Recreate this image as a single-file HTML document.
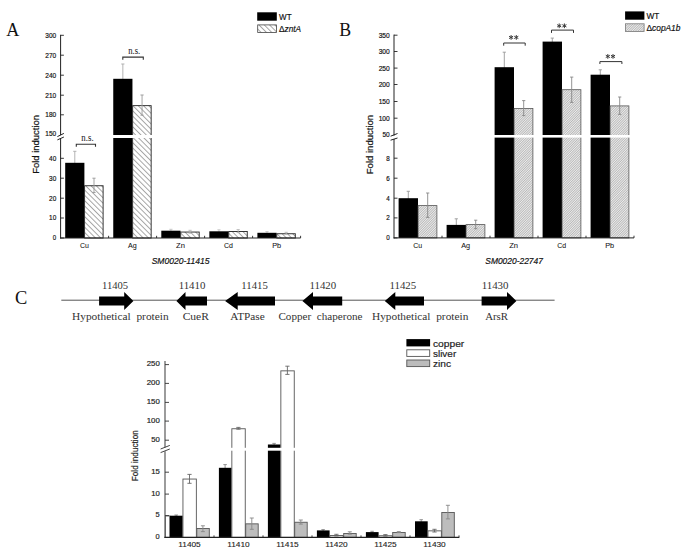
<!DOCTYPE html>
<html><head><meta charset="utf-8"><style>
html,body{margin:0;padding:0;background:#fff;width:685px;height:553px;overflow:hidden}
svg{display:block}
</style></head><body>
<svg width="685" height="553" viewBox="0 0 685 553">
<defs>
<pattern id="hA" patternUnits="userSpaceOnUse" width="3.75" height="10" patternTransform="rotate(-45)">
<rect width="3.75" height="10" fill="#fff"/><line x1="0.5" y1="0" x2="0.5" y2="10" stroke="#666" stroke-width="0.6"/></pattern>
<pattern id="hB" patternUnits="userSpaceOnUse" width="1.7" height="10" patternTransform="rotate(45)">
<rect width="1.7" height="10" fill="#ececec"/><line x1="0.4" y1="0" x2="0.4" y2="10" stroke="#9a9a9a" stroke-width="0.6"/></pattern>
</defs>
<rect width="685" height="553" fill="#fff"/>
<text x="6.35" y="35.85" font-size="19.18" textLength="13.10" lengthAdjust="spacingAndGlyphs" style="font-family:'Liberation Serif', serif;font-weight:normal" fill="#111" >A</text>
<line x1="74.80" y1="151.30" x2="74.80" y2="164.80" stroke="#aaa" stroke-width="0.9"/>
<line x1="73.20" y1="151.30" x2="76.40" y2="151.30" stroke="#aaa" stroke-width="0.9"/>
<line x1="73.20" y1="164.80" x2="76.40" y2="164.80" stroke="#aaa" stroke-width="0.9"/>
<rect x="65.20" y="162.80" width="19.20" height="75.20" fill="#000" stroke="none" stroke-width="1"/>
<rect x="84.60" y="185.75" width="18.50" height="52.25" fill="url(#hA)" stroke="#222" stroke-width="0.9"/>
<line x1="94.00" y1="178.20" x2="94.00" y2="192.50" stroke="#999" stroke-width="0.9"/>
<line x1="92.40" y1="178.20" x2="95.60" y2="178.20" stroke="#999" stroke-width="0.9"/>
<line x1="92.40" y1="192.50" x2="95.60" y2="192.50" stroke="#999" stroke-width="0.9"/>
<line x1="122.85" y1="64.00" x2="122.85" y2="80.80" stroke="#aaa" stroke-width="0.9"/>
<line x1="121.25" y1="64.00" x2="124.45" y2="64.00" stroke="#aaa" stroke-width="0.9"/>
<line x1="121.25" y1="80.80" x2="124.45" y2="80.80" stroke="#aaa" stroke-width="0.9"/>
<rect x="113.25" y="78.80" width="19.20" height="159.20" fill="#000" stroke="none" stroke-width="1"/>
<rect x="132.65" y="105.65" width="18.50" height="132.35" fill="url(#hA)" stroke="#222" stroke-width="0.9"/>
<line x1="142.05" y1="95.00" x2="142.05" y2="115.20" stroke="#999" stroke-width="0.9"/>
<line x1="140.45" y1="95.00" x2="143.65" y2="95.00" stroke="#999" stroke-width="0.9"/>
<line x1="140.45" y1="115.20" x2="143.65" y2="115.20" stroke="#999" stroke-width="0.9"/>
<line x1="170.90" y1="229.30" x2="170.90" y2="232.70" stroke="#c4c4c4" stroke-width="0.9"/>
<line x1="169.30" y1="229.30" x2="172.50" y2="229.30" stroke="#c4c4c4" stroke-width="0.9"/>
<line x1="169.30" y1="232.70" x2="172.50" y2="232.70" stroke="#c4c4c4" stroke-width="0.9"/>
<rect x="161.30" y="230.70" width="19.20" height="7.30" fill="#000" stroke="none" stroke-width="1"/>
<rect x="180.70" y="232.05" width="18.50" height="5.95" fill="url(#hA)" stroke="#222" stroke-width="0.9"/>
<line x1="190.10" y1="230.30" x2="190.10" y2="233.30" stroke="#b8b8b8" stroke-width="0.9"/>
<line x1="188.50" y1="230.30" x2="191.70" y2="230.30" stroke="#b8b8b8" stroke-width="0.9"/>
<line x1="188.50" y1="233.30" x2="191.70" y2="233.30" stroke="#b8b8b8" stroke-width="0.9"/>
<line x1="218.95" y1="229.80" x2="218.95" y2="233.30" stroke="#c4c4c4" stroke-width="0.9"/>
<line x1="217.35" y1="229.80" x2="220.55" y2="229.80" stroke="#c4c4c4" stroke-width="0.9"/>
<line x1="217.35" y1="233.30" x2="220.55" y2="233.30" stroke="#c4c4c4" stroke-width="0.9"/>
<rect x="209.35" y="231.30" width="19.20" height="6.70" fill="#000" stroke="none" stroke-width="1"/>
<rect x="228.75" y="231.45" width="18.50" height="6.55" fill="url(#hA)" stroke="#222" stroke-width="0.9"/>
<line x1="238.15" y1="229.60" x2="238.15" y2="232.60" stroke="#b8b8b8" stroke-width="0.9"/>
<line x1="236.55" y1="229.60" x2="239.75" y2="229.60" stroke="#b8b8b8" stroke-width="0.9"/>
<line x1="236.55" y1="232.60" x2="239.75" y2="232.60" stroke="#b8b8b8" stroke-width="0.9"/>
<line x1="267.00" y1="231.60" x2="267.00" y2="234.80" stroke="#c4c4c4" stroke-width="0.9"/>
<line x1="265.40" y1="231.60" x2="268.60" y2="231.60" stroke="#c4c4c4" stroke-width="0.9"/>
<line x1="265.40" y1="234.80" x2="268.60" y2="234.80" stroke="#c4c4c4" stroke-width="0.9"/>
<rect x="257.40" y="232.80" width="19.20" height="5.20" fill="#000" stroke="none" stroke-width="1"/>
<rect x="276.80" y="233.75" width="18.50" height="4.25" fill="url(#hA)" stroke="#222" stroke-width="0.9"/>
<line x1="286.20" y1="232.30" x2="286.20" y2="234.30" stroke="#b8b8b8" stroke-width="0.9"/>
<line x1="284.60" y1="232.30" x2="287.80" y2="232.30" stroke="#b8b8b8" stroke-width="0.9"/>
<line x1="284.60" y1="234.30" x2="287.80" y2="234.30" stroke="#b8b8b8" stroke-width="0.9"/>
<rect x="62.00" y="135.00" width="240.00" height="3.00" fill="#fff" stroke="none" stroke-width="1"/>
<line x1="60.60" y1="34.80" x2="60.60" y2="135.20" stroke="#222" stroke-width="1"/>
<line x1="60.60" y1="138.60" x2="60.60" y2="238.50" stroke="#222" stroke-width="1"/>
<line x1="60.10" y1="238.00" x2="300.60" y2="238.00" stroke="#222" stroke-width="1"/>
<line x1="108.60" y1="238.00" x2="108.60" y2="235.80" stroke="#222" stroke-width="0.9"/>
<line x1="156.60" y1="238.00" x2="156.60" y2="235.80" stroke="#222" stroke-width="0.9"/>
<line x1="204.60" y1="238.00" x2="204.60" y2="235.80" stroke="#222" stroke-width="0.9"/>
<line x1="252.60" y1="238.00" x2="252.60" y2="235.80" stroke="#222" stroke-width="0.9"/>
<line x1="300.60" y1="238.00" x2="300.60" y2="235.80" stroke="#222" stroke-width="0.9"/>
<line x1="60.60" y1="35.30" x2="63.90" y2="35.30" stroke="#222" stroke-width="0.9"/>
<text x="45.36" y="37.75" font-size="7.96" textLength="10.89" lengthAdjust="spacingAndGlyphs" style="font-family:'Liberation Sans', sans-serif;font-weight:normal" fill="#111" stroke="#111" stroke-width="0.2" >300</text>
<line x1="60.60" y1="55.20" x2="63.90" y2="55.20" stroke="#222" stroke-width="0.9"/>
<text x="45.36" y="57.65" font-size="7.96" textLength="10.89" lengthAdjust="spacingAndGlyphs" style="font-family:'Liberation Sans', sans-serif;font-weight:normal" fill="#111" stroke="#111" stroke-width="0.2" >270</text>
<line x1="60.60" y1="75.20" x2="63.90" y2="75.20" stroke="#222" stroke-width="0.9"/>
<text x="45.36" y="77.65" font-size="7.96" textLength="10.89" lengthAdjust="spacingAndGlyphs" style="font-family:'Liberation Sans', sans-serif;font-weight:normal" fill="#111" stroke="#111" stroke-width="0.2" >240</text>
<line x1="60.60" y1="95.20" x2="63.90" y2="95.20" stroke="#222" stroke-width="0.9"/>
<text x="45.36" y="97.65" font-size="7.96" textLength="10.89" lengthAdjust="spacingAndGlyphs" style="font-family:'Liberation Sans', sans-serif;font-weight:normal" fill="#111" stroke="#111" stroke-width="0.2" >210</text>
<line x1="60.60" y1="114.80" x2="63.90" y2="114.80" stroke="#222" stroke-width="0.9"/>
<text x="45.36" y="117.25" font-size="7.96" textLength="10.89" lengthAdjust="spacingAndGlyphs" style="font-family:'Liberation Sans', sans-serif;font-weight:normal" fill="#111" stroke="#111" stroke-width="0.2" >180</text>
<text x="45.36" y="136.25" font-size="7.96" textLength="10.89" lengthAdjust="spacingAndGlyphs" style="font-family:'Liberation Sans', sans-serif;font-weight:normal" fill="#111" stroke="#111" stroke-width="0.2" >150</text>
<line x1="60.60" y1="158.30" x2="63.90" y2="158.30" stroke="#222" stroke-width="0.9"/>
<text x="49.09" y="160.75" font-size="7.96" textLength="7.16" lengthAdjust="spacingAndGlyphs" style="font-family:'Liberation Sans', sans-serif;font-weight:normal" fill="#111" stroke="#111" stroke-width="0.2" >40</text>
<line x1="60.60" y1="178.20" x2="63.90" y2="178.20" stroke="#222" stroke-width="0.9"/>
<text x="49.09" y="180.65" font-size="7.96" textLength="7.16" lengthAdjust="spacingAndGlyphs" style="font-family:'Liberation Sans', sans-serif;font-weight:normal" fill="#111" stroke="#111" stroke-width="0.2" >30</text>
<line x1="60.60" y1="198.20" x2="63.90" y2="198.20" stroke="#222" stroke-width="0.9"/>
<text x="49.09" y="200.65" font-size="7.96" textLength="7.16" lengthAdjust="spacingAndGlyphs" style="font-family:'Liberation Sans', sans-serif;font-weight:normal" fill="#111" stroke="#111" stroke-width="0.2" >20</text>
<line x1="60.60" y1="218.00" x2="63.90" y2="218.00" stroke="#222" stroke-width="0.9"/>
<text x="49.09" y="220.45" font-size="7.96" textLength="7.16" lengthAdjust="spacingAndGlyphs" style="font-family:'Liberation Sans', sans-serif;font-weight:normal" fill="#111" stroke="#111" stroke-width="0.2" >10</text>
<line x1="60.60" y1="238.00" x2="63.90" y2="238.00" stroke="#222" stroke-width="0.9"/>
<text x="52.82" y="240.45" font-size="7.96" textLength="3.43" lengthAdjust="spacingAndGlyphs" style="font-family:'Liberation Sans', sans-serif;font-weight:normal" fill="#111" stroke="#111" stroke-width="0.2" >0</text>
<line x1="57.40" y1="136.60" x2="63.90" y2="133.40" stroke="#222" stroke-width="1.0"/>
<line x1="57.40" y1="139.90" x2="63.90" y2="137.00" stroke="#222" stroke-width="1.0"/>
<text transform="translate(39.25,173.85) rotate(-90)" x="0" y="0" font-size="8.64" textLength="58.90" lengthAdjust="spacingAndGlyphs" style="font-family:'Liberation Sans', sans-serif" fill="#111" stroke="#111" stroke-width="0.2">Fold induction</text>
<polyline points="76.30,146.70 76.30,144.30 95.50,144.30 95.50,146.70" fill="none" stroke="#333" stroke-width="1.1"/>
<text x="81.35" y="140.65" font-size="10.43" textLength="12.30" lengthAdjust="spacingAndGlyphs" style="font-family:'Liberation Serif', serif;font-weight:normal" fill="#111" >n.s.</text>
<polyline points="122.80,59.70 122.80,57.10 143.30,57.10 143.30,59.70" fill="none" stroke="#333" stroke-width="1.1"/>
<text x="128.15" y="53.75" font-size="10.43" textLength="12.10" lengthAdjust="spacingAndGlyphs" style="font-family:'Liberation Serif', serif;font-weight:normal" fill="#111" >n.s.</text>
<text x="79.95" y="248.35" font-size="6.72" textLength="8.90" lengthAdjust="spacingAndGlyphs" style="font-family:'Liberation Sans', sans-serif;font-weight:normal" fill="#111" stroke="#111" stroke-width="0.05" >Cu</text>
<text x="128.10" y="248.35" font-size="6.72" textLength="8.70" lengthAdjust="spacingAndGlyphs" style="font-family:'Liberation Sans', sans-serif;font-weight:normal" fill="#111" stroke="#111" stroke-width="0.05" >Ag</text>
<text x="176.05" y="248.35" font-size="6.72" textLength="8.90" lengthAdjust="spacingAndGlyphs" style="font-family:'Liberation Sans', sans-serif;font-weight:normal" fill="#111" stroke="#111" stroke-width="0.05" >Zn</text>
<text x="224.10" y="248.35" font-size="6.72" textLength="8.90" lengthAdjust="spacingAndGlyphs" style="font-family:'Liberation Sans', sans-serif;font-weight:normal" fill="#111" stroke="#111" stroke-width="0.05" >Cd</text>
<text x="272.15" y="248.35" font-size="6.72" textLength="8.90" lengthAdjust="spacingAndGlyphs" style="font-family:'Liberation Sans', sans-serif;font-weight:normal" fill="#111" stroke="#111" stroke-width="0.05" >Pb</text>
<text x="151.65" y="263.75" font-size="8.50" textLength="57.80" lengthAdjust="spacingAndGlyphs" style="font-family:'Liberation Sans', sans-serif;font-style:italic;font-weight:normal" fill="#111" stroke="#111" stroke-width="0.18" >SM0020-11415</text>
<rect x="257.20" y="12.30" width="19.60" height="8.40" fill="#000" stroke="none" stroke-width="1"/>
<rect x="257.70" y="24.90" width="18.80" height="7.60" fill="url(#hA)" stroke="#444" stroke-width="0.8"/>
<text x="279.05" y="19.95" font-size="9.19" textLength="12.50" lengthAdjust="spacingAndGlyphs" style="font-family:'Liberation Sans', sans-serif;font-weight:normal" fill="#111" stroke="#111" stroke-width="0.18" >WT</text>
<text x="279.05" y="32.25" font-size="9.19" textLength="22.10" lengthAdjust="spacingAndGlyphs" style="font-family:'Liberation Sans', sans-serif;font-weight:normal" fill="#111" stroke="#111" stroke-width="0.18" >&#916;<tspan style="font-style:italic">zntA</tspan></text>
<text x="339.15" y="35.75" font-size="18.28" textLength="11.90" lengthAdjust="spacingAndGlyphs" style="font-family:'Liberation Serif', serif;font-weight:normal" fill="#111" >B</text>
<line x1="408.30" y1="191.30" x2="408.30" y2="200.20" stroke="#999" stroke-width="0.9"/>
<line x1="406.70" y1="191.30" x2="409.90" y2="191.30" stroke="#999" stroke-width="0.9"/>
<line x1="406.70" y1="200.20" x2="409.90" y2="200.20" stroke="#999" stroke-width="0.9"/>
<rect x="398.60" y="198.20" width="19.40" height="39.70" fill="#000" stroke="none" stroke-width="1"/>
<rect x="418.10" y="205.60" width="18.80" height="32.30" fill="url(#hB)" stroke="#555" stroke-width="0.8"/>
<line x1="427.70" y1="193.00" x2="427.70" y2="217.40" stroke="#888" stroke-width="0.9"/>
<line x1="426.10" y1="193.00" x2="429.30" y2="193.00" stroke="#888" stroke-width="0.9"/>
<line x1="426.10" y1="217.40" x2="429.30" y2="217.40" stroke="#888" stroke-width="0.9"/>
<line x1="456.30" y1="218.80" x2="456.30" y2="226.90" stroke="#999" stroke-width="0.9"/>
<line x1="454.70" y1="218.80" x2="457.90" y2="218.80" stroke="#999" stroke-width="0.9"/>
<line x1="454.70" y1="226.90" x2="457.90" y2="226.90" stroke="#999" stroke-width="0.9"/>
<rect x="446.60" y="224.90" width="19.40" height="13.00" fill="#000" stroke="none" stroke-width="1"/>
<rect x="466.10" y="224.60" width="18.80" height="13.30" fill="url(#hB)" stroke="#555" stroke-width="0.8"/>
<line x1="475.70" y1="220.20" x2="475.70" y2="228.70" stroke="#888" stroke-width="0.9"/>
<line x1="474.10" y1="220.20" x2="477.30" y2="220.20" stroke="#888" stroke-width="0.9"/>
<line x1="474.10" y1="228.70" x2="477.30" y2="228.70" stroke="#888" stroke-width="0.9"/>
<line x1="504.30" y1="52.20" x2="504.30" y2="69.20" stroke="#999" stroke-width="0.9"/>
<line x1="502.70" y1="52.20" x2="505.90" y2="52.20" stroke="#999" stroke-width="0.9"/>
<line x1="502.70" y1="69.20" x2="505.90" y2="69.20" stroke="#999" stroke-width="0.9"/>
<rect x="494.60" y="67.20" width="19.40" height="170.70" fill="#000" stroke="none" stroke-width="1"/>
<rect x="514.10" y="108.50" width="18.80" height="129.40" fill="url(#hB)" stroke="#555" stroke-width="0.8"/>
<line x1="523.70" y1="100.60" x2="523.70" y2="115.60" stroke="#888" stroke-width="0.9"/>
<line x1="522.10" y1="100.60" x2="525.30" y2="100.60" stroke="#888" stroke-width="0.9"/>
<line x1="522.10" y1="115.60" x2="525.30" y2="115.60" stroke="#888" stroke-width="0.9"/>
<line x1="552.30" y1="38.10" x2="552.30" y2="43.60" stroke="#999" stroke-width="0.9"/>
<line x1="550.70" y1="38.10" x2="553.90" y2="38.10" stroke="#999" stroke-width="0.9"/>
<line x1="550.70" y1="43.60" x2="553.90" y2="43.60" stroke="#999" stroke-width="0.9"/>
<rect x="542.60" y="41.60" width="19.40" height="196.30" fill="#000" stroke="none" stroke-width="1"/>
<rect x="562.10" y="89.70" width="18.80" height="148.20" fill="url(#hB)" stroke="#555" stroke-width="0.8"/>
<line x1="571.70" y1="77.10" x2="571.70" y2="102.40" stroke="#888" stroke-width="0.9"/>
<line x1="570.10" y1="77.10" x2="573.30" y2="77.10" stroke="#888" stroke-width="0.9"/>
<line x1="570.10" y1="102.40" x2="573.30" y2="102.40" stroke="#888" stroke-width="0.9"/>
<line x1="600.30" y1="69.80" x2="600.30" y2="76.70" stroke="#999" stroke-width="0.9"/>
<line x1="598.70" y1="69.80" x2="601.90" y2="69.80" stroke="#999" stroke-width="0.9"/>
<line x1="598.70" y1="76.70" x2="601.90" y2="76.70" stroke="#999" stroke-width="0.9"/>
<rect x="590.60" y="74.70" width="19.40" height="163.20" fill="#000" stroke="none" stroke-width="1"/>
<rect x="610.10" y="105.90" width="18.80" height="132.00" fill="url(#hB)" stroke="#555" stroke-width="0.8"/>
<line x1="619.70" y1="97.00" x2="619.70" y2="114.40" stroke="#888" stroke-width="0.9"/>
<line x1="618.10" y1="97.00" x2="621.30" y2="97.00" stroke="#888" stroke-width="0.9"/>
<line x1="618.10" y1="114.40" x2="621.30" y2="114.40" stroke="#888" stroke-width="0.9"/>
<rect x="396.00" y="135.00" width="240.00" height="2.60" fill="#fff" stroke="none" stroke-width="1"/>
<line x1="394.00" y1="34.60" x2="394.00" y2="135.60" stroke="#222" stroke-width="1"/>
<line x1="394.00" y1="139.00" x2="394.00" y2="238.40" stroke="#222" stroke-width="1"/>
<line x1="393.50" y1="237.90" x2="634.00" y2="237.90" stroke="#222" stroke-width="1"/>
<line x1="442.00" y1="237.90" x2="442.00" y2="235.70" stroke="#222" stroke-width="0.9"/>
<line x1="490.00" y1="237.90" x2="490.00" y2="235.70" stroke="#222" stroke-width="0.9"/>
<line x1="538.00" y1="237.90" x2="538.00" y2="235.70" stroke="#222" stroke-width="0.9"/>
<line x1="586.00" y1="237.90" x2="586.00" y2="235.70" stroke="#222" stroke-width="0.9"/>
<line x1="634.00" y1="237.90" x2="634.00" y2="235.70" stroke="#222" stroke-width="0.9"/>
<line x1="394.00" y1="35.20" x2="397.50" y2="35.20" stroke="#222" stroke-width="0.9"/>
<text x="378.65" y="37.65" font-size="7.96" textLength="11.10" lengthAdjust="spacingAndGlyphs" style="font-family:'Liberation Sans', sans-serif;font-weight:normal" fill="#111" stroke="#111" stroke-width="0.2" >350</text>
<line x1="394.00" y1="51.50" x2="397.50" y2="51.50" stroke="#222" stroke-width="0.9"/>
<text x="378.65" y="53.95" font-size="7.96" textLength="11.10" lengthAdjust="spacingAndGlyphs" style="font-family:'Liberation Sans', sans-serif;font-weight:normal" fill="#111" stroke="#111" stroke-width="0.2" >300</text>
<line x1="394.00" y1="68.10" x2="397.50" y2="68.10" stroke="#222" stroke-width="0.9"/>
<text x="378.65" y="70.55" font-size="7.96" textLength="11.10" lengthAdjust="spacingAndGlyphs" style="font-family:'Liberation Sans', sans-serif;font-weight:normal" fill="#111" stroke="#111" stroke-width="0.2" >250</text>
<line x1="394.00" y1="84.50" x2="397.50" y2="84.50" stroke="#222" stroke-width="0.9"/>
<text x="378.65" y="86.95" font-size="7.96" textLength="11.10" lengthAdjust="spacingAndGlyphs" style="font-family:'Liberation Sans', sans-serif;font-weight:normal" fill="#111" stroke="#111" stroke-width="0.2" >200</text>
<line x1="394.00" y1="101.50" x2="397.50" y2="101.50" stroke="#222" stroke-width="0.9"/>
<text x="378.65" y="103.95" font-size="7.96" textLength="11.10" lengthAdjust="spacingAndGlyphs" style="font-family:'Liberation Sans', sans-serif;font-weight:normal" fill="#111" stroke="#111" stroke-width="0.2" >150</text>
<line x1="394.00" y1="118.20" x2="397.50" y2="118.20" stroke="#222" stroke-width="0.9"/>
<text x="378.65" y="120.65" font-size="7.96" textLength="11.10" lengthAdjust="spacingAndGlyphs" style="font-family:'Liberation Sans', sans-serif;font-weight:normal" fill="#111" stroke="#111" stroke-width="0.2" >100</text>
<text x="382.45" y="137.25" font-size="7.96" textLength="7.30" lengthAdjust="spacingAndGlyphs" style="font-family:'Liberation Sans', sans-serif;font-weight:normal" fill="#111" stroke="#111" stroke-width="0.2" >50</text>
<line x1="394.00" y1="158.20" x2="397.50" y2="158.20" stroke="#222" stroke-width="0.9"/>
<text x="386.25" y="160.65" font-size="7.96" textLength="3.50" lengthAdjust="spacingAndGlyphs" style="font-family:'Liberation Sans', sans-serif;font-weight:normal" fill="#111" stroke="#111" stroke-width="0.2" >8</text>
<line x1="394.00" y1="178.20" x2="397.50" y2="178.20" stroke="#222" stroke-width="0.9"/>
<text x="386.25" y="180.65" font-size="7.96" textLength="3.50" lengthAdjust="spacingAndGlyphs" style="font-family:'Liberation Sans', sans-serif;font-weight:normal" fill="#111" stroke="#111" stroke-width="0.2" >6</text>
<line x1="394.00" y1="198.20" x2="397.50" y2="198.20" stroke="#222" stroke-width="0.9"/>
<text x="386.25" y="200.65" font-size="7.96" textLength="3.50" lengthAdjust="spacingAndGlyphs" style="font-family:'Liberation Sans', sans-serif;font-weight:normal" fill="#111" stroke="#111" stroke-width="0.2" >4</text>
<line x1="394.00" y1="217.90" x2="397.50" y2="217.90" stroke="#222" stroke-width="0.9"/>
<text x="386.25" y="220.35" font-size="7.96" textLength="3.50" lengthAdjust="spacingAndGlyphs" style="font-family:'Liberation Sans', sans-serif;font-weight:normal" fill="#111" stroke="#111" stroke-width="0.2" >2</text>
<line x1="394.00" y1="237.90" x2="397.50" y2="237.90" stroke="#222" stroke-width="0.9"/>
<text x="386.25" y="240.35" font-size="7.96" textLength="3.50" lengthAdjust="spacingAndGlyphs" style="font-family:'Liberation Sans', sans-serif;font-weight:normal" fill="#111" stroke="#111" stroke-width="0.2" >0</text>
<line x1="390.60" y1="136.20" x2="397.50" y2="133.50" stroke="#222" stroke-width="1.0"/>
<line x1="390.60" y1="140.20" x2="397.50" y2="138.00" stroke="#222" stroke-width="1.0"/>
<text transform="translate(372.95,174.25) rotate(-90)" x="0" y="0" font-size="8.50" textLength="59.40" lengthAdjust="spacingAndGlyphs" style="font-family:'Liberation Sans', sans-serif" fill="#111" stroke="#111" stroke-width="0.2">Fold induction</text>
<polyline points="503.70,45.70 503.70,43.00 525.20,43.00 525.20,45.70" fill="none" stroke="#333" stroke-width="1.0"/>
<line x1="511.10" y1="35.05" x2="511.10" y2="39.75" stroke="#3a3a3a" stroke-width="1.0"/>
<line x1="509.06" y1="36.23" x2="513.14" y2="38.57" stroke="#3a3a3a" stroke-width="1.0"/>
<line x1="513.14" y1="36.23" x2="509.06" y2="38.57" stroke="#3a3a3a" stroke-width="1.0"/>
<line x1="516.30" y1="35.05" x2="516.30" y2="39.75" stroke="#3a3a3a" stroke-width="1.0"/>
<line x1="514.26" y1="36.23" x2="518.34" y2="38.57" stroke="#3a3a3a" stroke-width="1.0"/>
<line x1="518.34" y1="36.23" x2="514.26" y2="38.57" stroke="#3a3a3a" stroke-width="1.0"/>
<polyline points="551.50,32.90 551.50,30.10 573.50,30.10 573.50,32.90" fill="none" stroke="#333" stroke-width="1.0"/>
<line x1="559.20" y1="23.45" x2="559.20" y2="28.15" stroke="#3a3a3a" stroke-width="1.0"/>
<line x1="557.16" y1="24.62" x2="561.24" y2="26.98" stroke="#3a3a3a" stroke-width="1.0"/>
<line x1="561.24" y1="24.62" x2="557.16" y2="26.98" stroke="#3a3a3a" stroke-width="1.0"/>
<line x1="564.40" y1="23.45" x2="564.40" y2="28.15" stroke="#3a3a3a" stroke-width="1.0"/>
<line x1="562.36" y1="24.62" x2="566.44" y2="26.98" stroke="#3a3a3a" stroke-width="1.0"/>
<line x1="566.44" y1="24.62" x2="562.36" y2="26.98" stroke="#3a3a3a" stroke-width="1.0"/>
<polyline points="599.90,64.00 599.90,61.60 621.90,61.60 621.90,64.00" fill="none" stroke="#333" stroke-width="1.0"/>
<line x1="607.80" y1="54.05" x2="607.80" y2="58.75" stroke="#3a3a3a" stroke-width="1.0"/>
<line x1="605.76" y1="55.23" x2="609.84" y2="57.57" stroke="#3a3a3a" stroke-width="1.0"/>
<line x1="609.84" y1="55.23" x2="605.76" y2="57.57" stroke="#3a3a3a" stroke-width="1.0"/>
<line x1="613.00" y1="54.05" x2="613.00" y2="58.75" stroke="#3a3a3a" stroke-width="1.0"/>
<line x1="610.96" y1="55.23" x2="615.04" y2="57.57" stroke="#3a3a3a" stroke-width="1.0"/>
<line x1="615.04" y1="55.23" x2="610.96" y2="57.57" stroke="#3a3a3a" stroke-width="1.0"/>
<text x="413.15" y="248.15" font-size="6.72" textLength="8.90" lengthAdjust="spacingAndGlyphs" style="font-family:'Liberation Sans', sans-serif;font-weight:normal" fill="#111" stroke="#111" stroke-width="0.05" >Cu</text>
<text x="461.15" y="248.15" font-size="6.72" textLength="8.90" lengthAdjust="spacingAndGlyphs" style="font-family:'Liberation Sans', sans-serif;font-weight:normal" fill="#111" stroke="#111" stroke-width="0.05" >Ag</text>
<text x="509.15" y="248.15" font-size="6.72" textLength="8.90" lengthAdjust="spacingAndGlyphs" style="font-family:'Liberation Sans', sans-serif;font-weight:normal" fill="#111" stroke="#111" stroke-width="0.05" >Zn</text>
<text x="557.15" y="248.15" font-size="6.72" textLength="8.90" lengthAdjust="spacingAndGlyphs" style="font-family:'Liberation Sans', sans-serif;font-weight:normal" fill="#111" stroke="#111" stroke-width="0.05" >Cd</text>
<text x="605.15" y="248.15" font-size="6.72" textLength="8.90" lengthAdjust="spacingAndGlyphs" style="font-family:'Liberation Sans', sans-serif;font-weight:normal" fill="#111" stroke="#111" stroke-width="0.05" >Pb</text>
<text x="485.25" y="263.85" font-size="8.37" textLength="57.70" lengthAdjust="spacingAndGlyphs" style="font-family:'Liberation Sans', sans-serif;font-style:italic;font-weight:normal" fill="#111" stroke="#111" stroke-width="0.18" >SM0020-22747</text>
<rect x="625.10" y="11.40" width="19.30" height="8.30" fill="#000" stroke="none" stroke-width="1"/>
<rect x="625.50" y="23.80" width="18.60" height="7.70" fill="url(#hB)" stroke="#777" stroke-width="0.8"/>
<text x="646.45" y="19.05" font-size="8.92" textLength="12.90" lengthAdjust="spacingAndGlyphs" style="font-family:'Liberation Sans', sans-serif;font-weight:normal" fill="#111" stroke="#111" stroke-width="0.18" >WT</text>
<text x="646.45" y="31.25" font-size="9.33" textLength="34.00" lengthAdjust="spacingAndGlyphs" style="font-family:'Liberation Sans', sans-serif;font-weight:normal" fill="#111" stroke="#111" stroke-width="0.18" >&#916;<tspan style="font-style:italic">copA1b</tspan></text>
<text x="15.05" y="303.55" font-size="18.88" textLength="12.30" lengthAdjust="spacingAndGlyphs" style="font-family:'Liberation Serif', serif;font-weight:normal" fill="#111" >C</text>
<line x1="61.30" y1="300.20" x2="554.60" y2="300.20" stroke="#555" stroke-width="1.0"/>
<polygon points="99.1,296.4 124.2,296.4 124.2,291.9 133.4,300.9 124.2,309.9 124.2,305.4 99.1,305.4" fill="#000"/>
<polygon points="207.0,296.4 185.5,296.4 185.5,291.9 176.4,300.9 185.5,309.9 185.5,305.4 207.0,305.4" fill="#000"/>
<polygon points="275.0,296.4 237.7,296.4 237.7,291.9 225.1,300.9 237.7,309.9 237.7,305.4 275.0,305.4" fill="#000"/>
<polygon points="342.2,296.4 313.0,296.4 313.0,291.9 302.4,300.9 313.0,309.9 313.0,305.4 342.2,305.4" fill="#000"/>
<polygon points="424.0,296.4 395.3,296.4 395.3,291.9 384.8,300.9 395.3,309.9 395.3,305.4 424.0,305.4" fill="#000"/>
<polygon points="481.6,296.4 507.0,296.4 507.0,291.9 516.4,300.9 507.0,309.9 507.0,305.4 481.6,305.4" fill="#000"/>
<text x="102.05" y="289.05" font-size="9.91" textLength="26.00" lengthAdjust="spacingAndGlyphs" style="font-family:'Liberation Serif', serif;font-weight:normal" fill="#333" >11405</text>
<text x="178.65" y="289.05" font-size="9.91" textLength="26.80" lengthAdjust="spacingAndGlyphs" style="font-family:'Liberation Serif', serif;font-weight:normal" fill="#333" >11410</text>
<text x="241.35" y="289.05" font-size="9.91" textLength="26.50" lengthAdjust="spacingAndGlyphs" style="font-family:'Liberation Serif', serif;font-weight:normal" fill="#333" >11415</text>
<text x="309.45" y="289.05" font-size="9.91" textLength="26.80" lengthAdjust="spacingAndGlyphs" style="font-family:'Liberation Serif', serif;font-weight:normal" fill="#333" >11420</text>
<text x="389.45" y="289.05" font-size="9.91" textLength="26.80" lengthAdjust="spacingAndGlyphs" style="font-family:'Liberation Serif', serif;font-weight:normal" fill="#333" >11425</text>
<text x="481.65" y="289.05" font-size="9.91" textLength="26.90" lengthAdjust="spacingAndGlyphs" style="font-family:'Liberation Serif', serif;font-weight:normal" fill="#333" >11430</text>
<text x="72.05" y="319.95" font-size="9.82" textLength="96.60" lengthAdjust="spacingAndGlyphs" style="font-family:'Liberation Serif', serif;font-weight:normal" fill="#333" >Hypothetical&#160; protein</text>
<text x="182.65" y="319.95" font-size="9.82" textLength="26.30" lengthAdjust="spacingAndGlyphs" style="font-family:'Liberation Serif', serif;font-weight:normal" fill="#333" >CueR</text>
<text x="230.25" y="319.95" font-size="9.82" textLength="34.40" lengthAdjust="spacingAndGlyphs" style="font-family:'Liberation Serif', serif;font-weight:normal" fill="#333" >ATPase</text>
<text x="278.45" y="319.95" font-size="9.82" textLength="84.10" lengthAdjust="spacingAndGlyphs" style="font-family:'Liberation Serif', serif;font-weight:normal" fill="#333" >Copper&#160; chaperone</text>
<text x="371.95" y="319.95" font-size="9.82" textLength="96.40" lengthAdjust="spacingAndGlyphs" style="font-family:'Liberation Serif', serif;font-weight:normal" fill="#333" >Hypothetical&#160; protein</text>
<text x="485.15" y="319.95" font-size="9.82" textLength="22.90" lengthAdjust="spacingAndGlyphs" style="font-family:'Liberation Serif', serif;font-weight:normal" fill="#333" >ArsR</text>
<rect x="165.50" y="515.90" width="4.20" height="21.50" fill="#fff" stroke="#555" stroke-width="0.9"/>
<line x1="176.20" y1="515.00" x2="176.20" y2="517.20" stroke="#888" stroke-width="0.9"/>
<line x1="174.45" y1="515.00" x2="177.95" y2="515.00" stroke="#888" stroke-width="0.9"/>
<line x1="174.45" y1="517.20" x2="177.95" y2="517.20" stroke="#888" stroke-width="0.9"/>
<rect x="170.00" y="515.70" width="12.70" height="21.70" fill="#000" stroke="none" stroke-width="1"/>
<rect x="182.95" y="479.05" width="13.40" height="58.35" fill="#fff" stroke="#555" stroke-width="0.9"/>
<line x1="189.50" y1="474.40" x2="189.50" y2="483.30" stroke="#666" stroke-width="0.9"/>
<line x1="187.40" y1="474.40" x2="191.60" y2="474.40" stroke="#666" stroke-width="0.9"/>
<line x1="187.40" y1="483.30" x2="191.60" y2="483.30" stroke="#666" stroke-width="0.9"/>
<rect x="196.80" y="528.55" width="12.50" height="8.85" fill="#bdbdbd" stroke="#555" stroke-width="0.9"/>
<line x1="202.90" y1="525.80" x2="202.90" y2="531.60" stroke="#888" stroke-width="0.9"/>
<line x1="200.90" y1="525.80" x2="204.90" y2="525.80" stroke="#888" stroke-width="0.9"/>
<line x1="200.90" y1="531.60" x2="204.90" y2="531.60" stroke="#888" stroke-width="0.9"/>
<line x1="225.10" y1="464.60" x2="225.10" y2="469.30" stroke="#888" stroke-width="0.9"/>
<line x1="223.35" y1="464.60" x2="226.85" y2="464.60" stroke="#888" stroke-width="0.9"/>
<line x1="223.35" y1="469.30" x2="226.85" y2="469.30" stroke="#888" stroke-width="0.9"/>
<rect x="218.90" y="467.80" width="12.70" height="69.60" fill="#000" stroke="none" stroke-width="1"/>
<rect x="231.85" y="428.75" width="13.40" height="108.65" fill="#fff" stroke="#555" stroke-width="0.9"/>
<line x1="238.40" y1="427.40" x2="238.40" y2="429.20" stroke="#666" stroke-width="0.9"/>
<line x1="236.30" y1="427.40" x2="240.50" y2="427.40" stroke="#666" stroke-width="0.9"/>
<line x1="236.30" y1="429.20" x2="240.50" y2="429.20" stroke="#666" stroke-width="0.9"/>
<rect x="245.70" y="523.85" width="12.50" height="13.55" fill="#bdbdbd" stroke="#555" stroke-width="0.9"/>
<line x1="251.80" y1="518.00" x2="251.80" y2="529.30" stroke="#888" stroke-width="0.9"/>
<line x1="249.80" y1="518.00" x2="253.80" y2="518.00" stroke="#888" stroke-width="0.9"/>
<line x1="249.80" y1="529.30" x2="253.80" y2="529.30" stroke="#888" stroke-width="0.9"/>
<line x1="274.10" y1="443.40" x2="274.10" y2="446.00" stroke="#888" stroke-width="0.9"/>
<line x1="272.35" y1="443.40" x2="275.85" y2="443.40" stroke="#888" stroke-width="0.9"/>
<line x1="272.35" y1="446.00" x2="275.85" y2="446.00" stroke="#888" stroke-width="0.9"/>
<rect x="267.90" y="444.50" width="12.70" height="92.90" fill="#000" stroke="none" stroke-width="1"/>
<rect x="280.85" y="370.85" width="13.40" height="166.55" fill="#fff" stroke="#555" stroke-width="0.9"/>
<line x1="287.40" y1="366.20" x2="287.40" y2="374.40" stroke="#666" stroke-width="0.9"/>
<line x1="285.30" y1="366.20" x2="289.50" y2="366.20" stroke="#666" stroke-width="0.9"/>
<line x1="285.30" y1="374.40" x2="289.50" y2="374.40" stroke="#666" stroke-width="0.9"/>
<rect x="294.70" y="522.25" width="12.50" height="15.15" fill="#bdbdbd" stroke="#555" stroke-width="0.9"/>
<line x1="300.80" y1="520.00" x2="300.80" y2="524.10" stroke="#888" stroke-width="0.9"/>
<line x1="298.80" y1="520.00" x2="302.80" y2="520.00" stroke="#888" stroke-width="0.9"/>
<line x1="298.80" y1="524.10" x2="302.80" y2="524.10" stroke="#888" stroke-width="0.9"/>
<line x1="323.10" y1="529.60" x2="323.10" y2="531.90" stroke="#888" stroke-width="0.9"/>
<line x1="321.35" y1="529.60" x2="324.85" y2="529.60" stroke="#888" stroke-width="0.9"/>
<line x1="321.35" y1="531.90" x2="324.85" y2="531.90" stroke="#888" stroke-width="0.9"/>
<rect x="316.90" y="530.40" width="12.70" height="7.00" fill="#000" stroke="none" stroke-width="1"/>
<rect x="329.85" y="535.55" width="13.40" height="1.85" fill="#fff" stroke="#555" stroke-width="0.9"/>
<line x1="336.40" y1="534.30" x2="336.40" y2="535.90" stroke="#666" stroke-width="0.9"/>
<line x1="334.30" y1="534.30" x2="338.50" y2="534.30" stroke="#666" stroke-width="0.9"/>
<line x1="334.30" y1="535.90" x2="338.50" y2="535.90" stroke="#666" stroke-width="0.9"/>
<rect x="343.70" y="533.45" width="12.50" height="3.95" fill="#bdbdbd" stroke="#555" stroke-width="0.9"/>
<line x1="349.80" y1="531.80" x2="349.80" y2="534.20" stroke="#888" stroke-width="0.9"/>
<line x1="347.80" y1="531.80" x2="351.80" y2="531.80" stroke="#888" stroke-width="0.9"/>
<line x1="347.80" y1="534.20" x2="351.80" y2="534.20" stroke="#888" stroke-width="0.9"/>
<line x1="372.10" y1="531.30" x2="372.10" y2="533.60" stroke="#888" stroke-width="0.9"/>
<line x1="370.35" y1="531.30" x2="373.85" y2="531.30" stroke="#888" stroke-width="0.9"/>
<line x1="370.35" y1="533.60" x2="373.85" y2="533.60" stroke="#888" stroke-width="0.9"/>
<rect x="365.90" y="532.10" width="12.70" height="5.30" fill="#000" stroke="none" stroke-width="1"/>
<rect x="378.85" y="535.75" width="13.40" height="1.65" fill="#fff" stroke="#555" stroke-width="0.9"/>
<line x1="385.40" y1="534.60" x2="385.40" y2="536.00" stroke="#666" stroke-width="0.9"/>
<line x1="383.30" y1="534.60" x2="387.50" y2="534.60" stroke="#666" stroke-width="0.9"/>
<line x1="383.30" y1="536.00" x2="387.50" y2="536.00" stroke="#666" stroke-width="0.9"/>
<rect x="392.70" y="532.55" width="12.50" height="4.85" fill="#bdbdbd" stroke="#555" stroke-width="0.9"/>
<line x1="398.80" y1="531.60" x2="398.80" y2="532.60" stroke="#888" stroke-width="0.9"/>
<line x1="396.80" y1="531.60" x2="400.80" y2="531.60" stroke="#888" stroke-width="0.9"/>
<line x1="396.80" y1="532.60" x2="400.80" y2="532.60" stroke="#888" stroke-width="0.9"/>
<line x1="421.20" y1="519.70" x2="421.20" y2="522.80" stroke="#888" stroke-width="0.9"/>
<line x1="419.45" y1="519.70" x2="422.95" y2="519.70" stroke="#888" stroke-width="0.9"/>
<line x1="419.45" y1="522.80" x2="422.95" y2="522.80" stroke="#888" stroke-width="0.9"/>
<rect x="415.00" y="521.30" width="12.70" height="16.10" fill="#000" stroke="none" stroke-width="1"/>
<rect x="427.95" y="530.85" width="13.40" height="6.55" fill="#fff" stroke="#555" stroke-width="0.9"/>
<line x1="434.50" y1="529.30" x2="434.50" y2="532.00" stroke="#666" stroke-width="0.9"/>
<line x1="432.40" y1="529.30" x2="436.60" y2="529.30" stroke="#666" stroke-width="0.9"/>
<line x1="432.40" y1="532.00" x2="436.60" y2="532.00" stroke="#666" stroke-width="0.9"/>
<rect x="441.80" y="512.45" width="12.50" height="24.95" fill="#bdbdbd" stroke="#555" stroke-width="0.9"/>
<line x1="447.90" y1="505.30" x2="447.90" y2="518.90" stroke="#888" stroke-width="0.9"/>
<line x1="445.90" y1="505.30" x2="449.90" y2="505.30" stroke="#888" stroke-width="0.9"/>
<line x1="445.90" y1="518.90" x2="449.90" y2="518.90" stroke="#888" stroke-width="0.9"/>
<rect x="166.00" y="447.80" width="160.00" height="2.90" fill="#fff" stroke="none" stroke-width="1"/>
<line x1="165.00" y1="361.10" x2="165.00" y2="447.40" stroke="#666" stroke-width="1.3"/>
<line x1="165.00" y1="451.20" x2="165.00" y2="538.00" stroke="#666" stroke-width="1.3"/>
<line x1="164.40" y1="537.40" x2="459.30" y2="537.40" stroke="#222" stroke-width="1.2"/>
<line x1="214.00" y1="537.40" x2="214.00" y2="535.40" stroke="#222" stroke-width="0.9"/>
<line x1="263.00" y1="537.40" x2="263.00" y2="535.40" stroke="#222" stroke-width="0.9"/>
<line x1="312.00" y1="537.40" x2="312.00" y2="535.40" stroke="#222" stroke-width="0.9"/>
<line x1="361.00" y1="537.40" x2="361.00" y2="535.40" stroke="#222" stroke-width="0.9"/>
<line x1="410.00" y1="537.40" x2="410.00" y2="535.40" stroke="#222" stroke-width="0.9"/>
<line x1="459.00" y1="537.40" x2="459.00" y2="535.40" stroke="#222" stroke-width="0.9"/>
<line x1="165.00" y1="364.60" x2="169.00" y2="364.60" stroke="#333" stroke-width="0.9"/>
<text x="146.70" y="366.35" font-size="7.26" textLength="13.05" lengthAdjust="spacingAndGlyphs" style="font-family:'Liberation Sans', sans-serif;font-weight:normal" fill="#222" stroke="#222" stroke-width="0.18" >250</text>
<line x1="165.00" y1="383.40" x2="169.00" y2="383.40" stroke="#333" stroke-width="0.9"/>
<text x="146.70" y="385.15" font-size="7.26" textLength="13.05" lengthAdjust="spacingAndGlyphs" style="font-family:'Liberation Sans', sans-serif;font-weight:normal" fill="#222" stroke="#222" stroke-width="0.18" >200</text>
<line x1="165.00" y1="402.40" x2="169.00" y2="402.40" stroke="#333" stroke-width="0.9"/>
<text x="146.70" y="404.15" font-size="7.26" textLength="13.05" lengthAdjust="spacingAndGlyphs" style="font-family:'Liberation Sans', sans-serif;font-weight:normal" fill="#222" stroke="#222" stroke-width="0.18" >150</text>
<line x1="165.00" y1="421.10" x2="169.00" y2="421.10" stroke="#333" stroke-width="0.9"/>
<text x="146.70" y="422.85" font-size="7.26" textLength="13.05" lengthAdjust="spacingAndGlyphs" style="font-family:'Liberation Sans', sans-serif;font-weight:normal" fill="#222" stroke="#222" stroke-width="0.18" >100</text>
<line x1="165.00" y1="440.20" x2="169.00" y2="440.20" stroke="#333" stroke-width="0.9"/>
<text x="151.15" y="441.95" font-size="7.26" textLength="8.60" lengthAdjust="spacingAndGlyphs" style="font-family:'Liberation Sans', sans-serif;font-weight:normal" fill="#222" stroke="#222" stroke-width="0.18" >50</text>
<line x1="165.00" y1="472.20" x2="169.00" y2="472.20" stroke="#333" stroke-width="0.9"/>
<text x="151.15" y="473.95" font-size="7.26" textLength="8.60" lengthAdjust="spacingAndGlyphs" style="font-family:'Liberation Sans', sans-serif;font-weight:normal" fill="#222" stroke="#222" stroke-width="0.18" >15</text>
<line x1="165.00" y1="494.10" x2="169.00" y2="494.10" stroke="#333" stroke-width="0.9"/>
<text x="151.15" y="495.85" font-size="7.26" textLength="8.60" lengthAdjust="spacingAndGlyphs" style="font-family:'Liberation Sans', sans-serif;font-weight:normal" fill="#222" stroke="#222" stroke-width="0.18" >10</text>
<line x1="165.00" y1="515.60" x2="169.00" y2="515.60" stroke="#333" stroke-width="0.9"/>
<text x="155.60" y="517.35" font-size="7.26" textLength="4.15" lengthAdjust="spacingAndGlyphs" style="font-family:'Liberation Sans', sans-serif;font-weight:normal" fill="#222" stroke="#222" stroke-width="0.18" >5</text>
<text x="155.60" y="538.75" font-size="7.26" textLength="4.15" lengthAdjust="spacingAndGlyphs" style="font-family:'Liberation Sans', sans-serif;font-weight:normal" fill="#222" stroke="#222" stroke-width="0.18" >0</text>
<line x1="160.60" y1="449.00" x2="169.80" y2="445.40" stroke="#444" stroke-width="1.0"/>
<line x1="160.60" y1="452.60" x2="169.80" y2="449.00" stroke="#444" stroke-width="1.0"/>
<text transform="translate(138.35,481.25) rotate(-90)" x="0" y="0" font-size="8.92" textLength="51.00" lengthAdjust="spacingAndGlyphs" style="font-family:'Liberation Sans', sans-serif" fill="#222" stroke="#222" stroke-width="0.2">Fold induction</text>
<text x="178.25" y="546.65" font-size="7.26" textLength="22.50" lengthAdjust="spacingAndGlyphs" style="font-family:'Liberation Sans', sans-serif;font-weight:normal" fill="#222" stroke="#222" stroke-width="0.1" >11405</text>
<text x="227.15" y="546.65" font-size="7.26" textLength="22.50" lengthAdjust="spacingAndGlyphs" style="font-family:'Liberation Sans', sans-serif;font-weight:normal" fill="#222" stroke="#222" stroke-width="0.1" >11410</text>
<text x="276.15" y="546.65" font-size="7.26" textLength="22.50" lengthAdjust="spacingAndGlyphs" style="font-family:'Liberation Sans', sans-serif;font-weight:normal" fill="#222" stroke="#222" stroke-width="0.1" >11415</text>
<text x="325.15" y="546.65" font-size="7.26" textLength="22.50" lengthAdjust="spacingAndGlyphs" style="font-family:'Liberation Sans', sans-serif;font-weight:normal" fill="#222" stroke="#222" stroke-width="0.1" >11420</text>
<text x="374.15" y="546.65" font-size="7.26" textLength="22.50" lengthAdjust="spacingAndGlyphs" style="font-family:'Liberation Sans', sans-serif;font-weight:normal" fill="#222" stroke="#222" stroke-width="0.1" >11425</text>
<text x="423.25" y="546.65" font-size="7.26" textLength="22.50" lengthAdjust="spacingAndGlyphs" style="font-family:'Liberation Sans', sans-serif;font-weight:normal" fill="#222" stroke="#222" stroke-width="0.1" >11430</text>
<rect x="406.40" y="339.10" width="23.70" height="7.30" fill="#000" stroke="none" stroke-width="1"/>
<rect x="406.80" y="349.80" width="22.90" height="6.60" fill="#fff" stroke="#555" stroke-width="0.9"/>
<rect x="406.80" y="360.00" width="22.90" height="6.60" fill="#bcbcbc" stroke="#555" stroke-width="0.9"/>
<text x="432.95" y="346.55" font-size="9.86" textLength="31.30" lengthAdjust="spacingAndGlyphs" style="font-family:'Liberation Sans', sans-serif;font-weight:normal" fill="#222" stroke="#222" stroke-width="0.18" >copper</text>
<text x="432.95" y="356.75" font-size="9.86" textLength="23.30" lengthAdjust="spacingAndGlyphs" style="font-family:'Liberation Sans', sans-serif;font-weight:normal" fill="#222" stroke="#222" stroke-width="0.18" >sliver</text>
<text x="432.95" y="367.05" font-size="9.86" textLength="18.10" lengthAdjust="spacingAndGlyphs" style="font-family:'Liberation Sans', sans-serif;font-weight:normal" fill="#222" stroke="#222" stroke-width="0.18" >zinc</text>
</svg>
</body></html>
